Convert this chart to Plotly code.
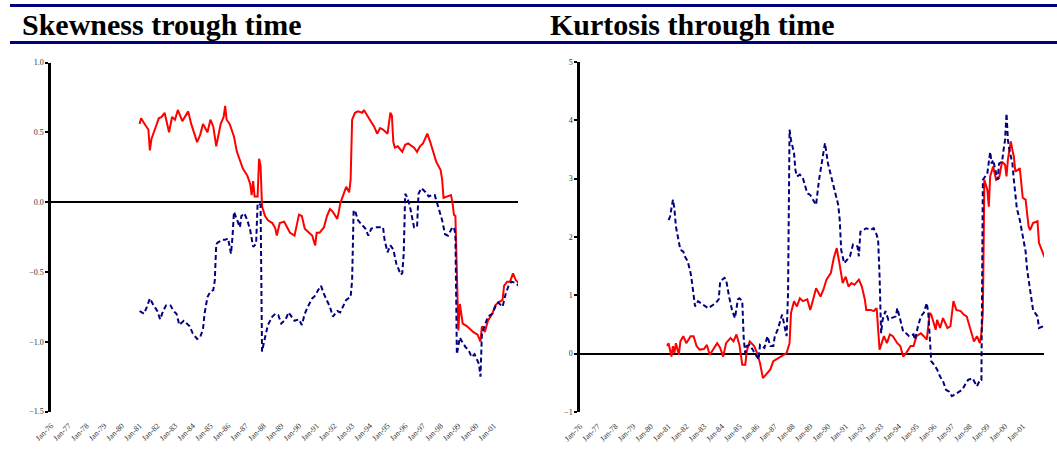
import plotly.graph_objects as go

# months counted from Jan-1976 (0 = Jan-76)
skew_red_months = [60, 61, 64, 66, 67, 68, 71, 73, 75, 77, 80, 82, 84, 86, 89, 91, 93, 95, 99, 101,
                   103, 106, 108, 110, 112, 115, 117, 118, 119, 121, 124, 126, 128, 130, 133, 135, 136, 137, 138, 140,
                   141, 142, 143, 145, 147, 150, 152, 153, 155, 158, 160, 162, 165, 168, 170, 172, 174, 177, 179, 180,
                   182, 185, 187, 189, 191, 194, 195, 196, 198, 200, 202, 203, 204, 206, 208, 211, 212, 214, 216, 219,
                   221, 223, 225, 228, 230, 231, 232, 233, 235, 238, 240, 242, 246, 248, 250, 252, 255, 257, 259, 261,
                   264, 265, 266, 268, 271, 272, 273, 274, 275, 276, 277, 279, 282, 284, 286, 289, 291, 292, 294, 296,
                   299, 301, 303, 306, 307, 309, 311, 313, 315, 317]
skew_red = [0.56, 0.60, 0.55, 0.52, 0.37, 0.45, 0.54, 0.60, 0.61, 0.64, 0.50, 0.61, 0.59, 0.66, 0.58, 0.62, 0.65, 0.56, 0.43, 0.48,
            0.56, 0.50, 0.59, 0.54, 0.40, 0.56, 0.61, 0.69, 0.59, 0.56, 0.47, 0.36, 0.30, 0.24, 0.19, 0.13, 0.05, 0.15, 0.04, 0.04,
            0.31, 0.26, -0.03, -0.10, -0.13, -0.15, -0.19, -0.24, -0.15, -0.14, -0.18, -0.22, -0.24, -0.09, -0.10, -0.19, -0.21, -0.24, -0.31, -0.22,
            -0.22, -0.18, -0.10, -0.05, -0.07, -0.12, -0.07, -0.01, 0.05, 0.11, 0.07, 0.16, 0.59, 0.64, 0.65, 0.64, 0.66, 0.62, 0.59, 0.54,
            0.49, 0.53, 0.52, 0.49, 0.64, 0.62, 0.43, 0.39, 0.40, 0.36, 0.41, 0.42, 0.39, 0.36, 0.40, 0.42, 0.49, 0.43, 0.35, 0.29,
            0.23, 0.16, 0.03, 0.04, 0.05, 0.00, -0.09, -0.10, -0.44, -0.92, -0.73, -0.87, -0.89, -0.91, -0.93, -0.95, -1.00, -0.89, -0.93, -0.85,
            -0.80, -0.74, -0.72, -0.70, -0.60, -0.57, -0.57, -0.51, -0.56, -0.58]

skew_blue_months = [60, 63, 65, 67, 69, 72, 74, 76, 78, 81, 83, 85, 87, 90, 92, 94, 96, 99, 101, 103,
                    104, 106, 108, 110, 111, 112, 113, 116, 118, 120, 122, 123, 124, 126, 128, 129, 131, 133, 135, 137,
                    139, 140, 141, 142, 143, 145, 147, 150, 152, 154, 156, 159, 161, 163, 165, 168, 170, 172, 174, 177,
                    179, 181, 183, 185, 187, 189, 191, 194, 196, 198, 200, 203, 204, 205, 206, 208, 211, 213, 215, 217,
                    220, 223, 225, 226, 228, 230, 232, 234, 237, 238, 239, 240, 241, 243, 246, 248, 249, 251, 254, 256,
                    258, 260, 263, 265, 267, 269, 272, 273, 274, 275, 277, 278, 281, 283, 285, 287, 290, 291, 292, 294,
                    296, 299, 301, 303, 306, 308, 310, 312, 315, 317]
skew_blue = [-0.78, -0.80, -0.75, -0.69, -0.73, -0.78, -0.84, -0.78, -0.74, -0.74, -0.78, -0.80, -0.88, -0.85, -0.87, -0.89, -0.94, -0.98, -0.97, -0.91,
             -0.80, -0.68, -0.64, -0.63, -0.56, -0.30, -0.29, -0.27, -0.27, -0.26, -0.37, -0.25, -0.07, -0.13, -0.18, -0.10, -0.08, -0.13, -0.20, -0.32,
             -0.30, -0.01, -0.01, -0.02, -1.07, -0.97, -0.88, -0.82, -0.80, -0.81, -0.87, -0.84, -0.79, -0.82, -0.85, -0.84, -0.88, -0.80, -0.75, -0.69,
             -0.67, -0.63, -0.60, -0.66, -0.70, -0.75, -0.82, -0.78, -0.79, -0.74, -0.70, -0.68, -0.56, -0.06, -0.06, -0.13, -0.17, -0.19, -0.24, -0.19,
             -0.18, -0.18, -0.18, -0.27, -0.36, -0.31, -0.34, -0.44, -0.52, -0.51, -0.37, 0.06, 0.04, -0.02, -0.18, -0.18, 0.06, 0.10, 0.07, 0.04,
             0.05, 0.05, -0.06, -0.13, -0.23, -0.24, -0.18, -0.18, -0.23, -1.09, -0.97, -0.99, -1.04, -1.06, -1.11, -1.09, -1.16, -1.25, -0.94, -0.88,
             -0.82, -0.80, -0.75, -0.72, -0.75, -0.66, -0.60, -0.57, -0.58, -0.60]

kurt_red_months = [59, 60, 62, 63, 64, 65, 67, 68, 70, 71, 72, 75, 77, 79, 81, 84, 86, 88, 90, 93,
                   95, 97, 99, 102, 104, 106, 108, 110, 112, 113, 115, 118, 120, 122, 124, 127, 129, 131, 133, 136,
                   138, 140, 142, 143, 145, 147, 149, 151, 154, 156, 158, 160, 163, 165, 167, 170, 172, 174, 176, 178,
                   180, 182, 184, 186, 189, 191, 193, 194, 197, 199, 201, 202, 203, 206, 208, 210, 212, 215, 217, 219,
                   221, 224, 226, 228, 231, 233, 235, 237, 238, 241, 242, 244, 246, 249, 251, 253, 255, 258, 260, 262,
                   264, 267, 269, 271, 272, 273, 274, 276, 277, 278, 280, 282, 284, 286, 288, 289, 290, 292, 293, 294,
                   295, 297, 298, 300, 302, 304, 305, 307, 310, 311, 313, 315]
kurt_red = [0.13, 0.18, -0.05, 0.13, 0.01, 0.18, -0.02, 0.21, 0.30, 0.24, 0.18, 0.30, 0.30, 0.13, 0.07, 0.08, 0.15, -0.02, 0.07, 0.18,
            0.10, -0.05, 0.18, 0.27, 0.21, 0.33, 0.15, -0.19, -0.19, 0.04, 0.21, 0.13, 0.01, -0.16, -0.42, -0.33, -0.27, -0.13, -0.10, -0.05,
            -0.02, 0.01, 0.18, 0.70, 0.90, 0.81, 0.95, 0.90, 0.93, 0.75, 0.93, 1.12, 0.98, 1.10, 1.27, 1.38, 1.64, 1.81, 1.52, 1.21,
            1.32, 1.15, 1.21, 1.18, 1.27, 1.15, 0.93, 0.75, 0.75, 0.73, 0.78, 0.35, 0.07, 0.30, 0.18, 0.33, 0.30, 0.18, 0.13, -0.05,
            0.01, 0.13, 0.13, 0.30, 0.35, 0.30, 0.24, 0.70, 0.67, 0.41, 0.58, 0.44, 0.61, 0.44, 0.47, 0.90, 0.75, 0.73, 0.67, 0.64,
            0.47, 0.21, 0.30, 0.18, 0.35, 0.70, 2.98, 2.81, 2.52, 3.04, 3.21, 2.98, 3.01, 3.29, 3.24, 3.04, 3.33, 3.64, 3.49, 3.38,
            3.12, 3.15, 3.18, 2.67, 2.64, 2.18, 2.12, 2.24, 2.27, 1.90, 1.78, 1.64]

kurt_blue_months = [60, 61, 63, 64, 65, 67, 68, 70, 71, 73, 75, 76, 78, 80, 82, 85, 87, 89, 92, 94,
                    95, 98, 99, 101, 103, 105, 107, 108, 110, 111, 112, 113, 115, 117, 120, 121, 122, 125, 127, 129,
                    131, 132, 134, 136, 137, 140, 141, 142, 143, 145, 146, 147, 149, 151, 154, 156, 158, 160, 162, 164,
                    166, 168, 170, 172, 174, 175, 176, 177, 179, 181, 183, 185, 188, 189, 190, 192, 194, 197, 199, 201,
                    202, 203, 204, 205, 207, 209, 211, 214, 215, 217, 219, 221, 223, 226, 227, 229, 231, 233, 235, 236,
                    237, 238, 240, 242, 244, 246, 248, 250, 252, 254, 257, 259, 261, 263, 266, 268, 269, 271, 272, 273,
                    276, 278, 279, 280, 283, 284, 286, 287, 288, 289, 290, 291, 293, 294, 295, 296, 298, 300, 302, 303,
                    305, 306, 307, 310, 311, 314]
kurt_blue = [2.29, 2.35, 2.64, 2.49, 2.18, 1.90, 1.78, 1.75, 1.67, 1.58, 1.38, 1.21, 0.81, 0.90, 0.87, 0.81, 0.78, 0.81, 0.87, 0.93,
             1.24, 1.30, 1.27, 0.98, 0.75, 0.61, 0.93, 0.95, 0.90, 0.24, 0.01, 0.13, 0.15, 0.07, -0.05, -0.10, 0.15, 0.10, 0.30, 0.13,
             0.13, 0.30, 0.41, 0.61, 0.67, 0.30, 1.04, 3.84, 3.66, 3.44, 3.15, 3.04, 3.07, 3.01, 2.75, 2.72, 2.64, 2.55, 2.98, 3.32,
             3.61, 3.26, 3.06, 2.81, 2.64, 2.55, 2.29, 1.78, 1.55, 1.61, 1.67, 1.87, 1.84, 1.67, 2.09, 2.12, 2.15, 2.12, 2.15, 2.04,
             1.95, 1.32, 0.35, 0.58, 0.73, 0.58, 0.61, 0.64, 0.78, 0.58, 0.38, 0.35, 0.30, 0.33, 0.24, 0.47, 0.64, 0.70, 0.87, 0.70,
             0.24, -0.13, -0.19, -0.27, -0.39, -0.47, -0.62, -0.65, -0.73, -0.70, -0.65, -0.62, -0.53, -0.45, -0.42, -0.50, -0.56, -0.45, -0.45, 2.98,
             3.09, 3.46, 3.26, 3.32, 2.98, 3.26, 3.29, 3.49, 3.66, 4.12, 3.66, 3.49, 3.26, 2.98, 2.69, 2.49, 2.29, 2.01, 1.75, 1.44,
             1.12, 0.93, 0.75, 0.64, 0.44, 0.47]

titles = ["Skewness trough time", "Kurtosis through time"]
tick_years = list(range(1976, 2002))   # Jan-76 ... Jan-01

W, H = 1057, 471
NAVY = "#000080"
SERIF = "Liberation Serif, Times New Roman, serif"


def to_dates(months):
    return [f"{1976 + m // 12}-{m % 12 + 1:02d}-01" for m in months]


def px_x(p):
    return p / W


def px_y(p):
    return 1 - p / H


fig = go.Figure()

fig.add_trace(go.Scatter(x=to_dates(skew_red_months), y=skew_red, mode="lines",
                         line=dict(color="#FF0000", width=2), xaxis="x", yaxis="y"))
fig.add_trace(go.Scatter(x=to_dates(skew_blue_months), y=skew_blue, mode="lines",
                         line=dict(color=NAVY, width=2, dash="5px,3px"), xaxis="x", yaxis="y"))
fig.add_trace(go.Scatter(x=to_dates(kurt_red_months), y=kurt_red, mode="lines",
                         line=dict(color="#FF0000", width=2), xaxis="x2", yaxis="y2"))
fig.add_trace(go.Scatter(x=to_dates(kurt_blue_months), y=kurt_blue, mode="lines",
                         line=dict(color=NAVY, width=2, dash="5px,3px"), xaxis="x2", yaxis="y2"))

tick_font = dict(family=SERIF, size=8, color="#333333")

xcommon = dict(type="date", tickmode="array",
               tickvals=[f"{y}-01-01" for y in tick_years],
               ticktext=[f"Jan-{y % 100:02d}" for y in tick_years],
               tickangle=-45, showgrid=False, showline=False, zeroline=False,
               ticks="", tickfont=tick_font, ticklabelstandoff=7, automargin=False)
ycommon = dict(showgrid=False, showline=True, linecolor="black", linewidth=2.5,
               ticks="outside", ticklen=3, tickwidth=1.5, tickcolor="black",
               zeroline=True, zerolinecolor="black", zerolinewidth=2,
               tickfont=tick_font, automargin=False)

fig.update_layout(
    width=W, height=H,
    margin=dict(l=0, r=0, t=0, b=0, autoexpand=False),
    paper_bgcolor="white", plot_bgcolor="white",
    showlegend=False,
    xaxis=dict(xcommon, domain=[px_x(51), px_x(518)], range=["1976-01-01", "2002-05-15"], anchor="y"),
    yaxis=dict(ycommon, domain=[px_y(411.5), px_y(62.5)], range=[-1.5, 1.0], dtick=0.5,
               tickformat=".1f", anchor="x"),
    xaxis2=dict(xcommon, domain=[px_x(580), px_x(1044)], range=["1976-01-01", "2002-03-15"], anchor="y2"),
    yaxis2=dict(ycommon, domain=[px_y(412), px_y(62)], range=[-1, 5], dtick=1, anchor="x2"),
)

# navy rules above and below the titles
for y_px, lw in [(5.5, 3), (42.5, 3)]:
    fig.add_shape(type="line", xref="paper", yref="paper",
                  x0=px_x(10), x1=1, y0=px_y(y_px), y1=px_y(y_px),
                  line=dict(color=NAVY, width=lw))

for title, x_px in zip(titles, [20, 548]):
    fig.add_annotation(text=f"<b>{title}</b>", xref="paper", yref="paper",
                       x=px_x(x_px), y=px_y(25), xanchor="left", yanchor="middle",
                       showarrow=False, font=dict(family=SERIF, size=30, color="black"))

# drop the default page margin so the chart sits at the window's top-left corner
fig.write_html("out.html", config={"displayModeBar": False},
               post_script="document.body.style.margin = '0';")
